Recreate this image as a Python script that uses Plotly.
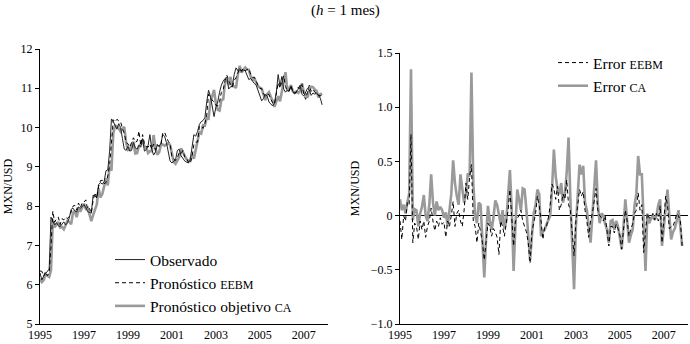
import plotly.graph_objects as go

# Monthly observations (index 0 = first month plotted at the "1995" tick)
observado = [
    6.30, 6.12, 6.22, 6.28, 6.35, 6.40, 7.72, 7.62, 7.52, 7.58,
    7.50, 7.48, 7.55, 7.60, 7.52, 7.58, 7.70, 7.92, 7.95, 7.88,
    7.85, 7.98, 7.94, 8.00, 8.04, 7.96, 7.86, 7.84, 7.82, 8.28,
    8.24, 8.22, 8.55, 8.60, 8.56, 8.62, 8.90, 8.92, 9.40, 10.22,
    10.15, 10.05, 9.96, 10.10, 10.00, 9.72, 9.45, 9.42, 9.52, 9.40,
    9.42, 9.62, 9.48, 9.45, 9.55, 9.50, 9.72, 9.40, 9.44, 9.55,
    9.82, 9.45, 9.30, 9.38, 9.55, 9.52, 9.60, 9.82, 9.78, 9.62,
    9.40, 9.15, 9.10, 9.15, 9.18, 9.42, 9.45, 9.28, 9.20, 9.15,
    9.12, 9.10, 9.18, 9.55, 9.82, 9.78, 9.90, 10.08, 10.15, 10.18,
    10.25, 10.65, 10.95, 10.80, 10.50, 10.28, 10.52, 10.65, 10.90, 11.08,
    11.18, 11.25, 11.28, 10.98, 11.04, 11.05, 11.35, 11.52, 11.45, 11.50,
    11.42, 11.46, 11.45, 11.35, 11.22, 11.25, 11.18, 11.12, 11.08, 10.95,
    10.82, 10.68, 10.74, 10.85, 10.80, 10.65, 10.60, 10.55, 10.62, 10.90,
    11.35, 11.05, 11.30, 10.98, 10.90, 10.95, 10.92, 11.05, 10.92, 10.85,
    10.92, 10.98, 11.08, 10.85, 10.80, 10.90, 11.00, 10.96, 10.82, 10.88,
    10.85, 10.88, 10.82, 10.75, 10.58,
]

error_eebm = [
    -0.05, -0.22, 0.00, -0.05, 0.12, 0.10, 0.75, -0.25, -0.07, -0.10,
    -0.22, -0.05, -0.13, -0.05, -0.20, -0.10, -0.05, 0.07, -0.05, -0.14,
    -0.05, -0.10, -0.02, -0.08, -0.06, -0.20, -0.05, -0.10, 0.00, 0.13,
    -0.10, 0.02, 0.05, -0.05, -0.10, 0.05, 0.30, 0.15, 0.36, 0.47,
    -0.05, -0.10, -0.25, -0.07, -0.15, -0.25, -0.41, -0.20, -0.07, -0.10,
    -0.19, -0.12, -0.15, -0.20, -0.36, -0.05, -0.10, -0.19, -0.08, 0.05,
    0.24, 0.00, -0.28, -0.05, -0.02, 0.00, 0.05, -0.05, -0.10, -0.15,
    -0.25, -0.44, -0.15, -0.05, 0.02, 0.18, 0.09, -0.05, -0.22, -0.10,
    -0.10, -0.02, 0.10, 0.29, 0.25, 0.15, 0.27, 0.05, 0.10, 0.20,
    0.15, 0.33, 0.10, 0.05, -0.20, -0.37, -0.05, 0.10, 0.24, 0.18,
    0.22, 0.05, -0.05, -0.20, -0.05, 0.02, 0.15, 0.25, 0.05, 0.00,
    -0.02, -0.05, 0.00, -0.12, -0.28, -0.10, -0.10, -0.16, -0.08, -0.12,
    -0.18, -0.31, -0.12, 0.05, -0.05, -0.19, -0.12, -0.08, 0.02, 0.05,
    0.21, 0.05, 0.10, -0.34, -0.15, 0.02, -0.02, -0.02, 0.02, -0.04,
    0.02, -0.05, 0.09, -0.25, -0.05, 0.18, 0.10, -0.12, -0.10, -0.10,
    -0.05, 0.02, 0.00, -0.05, -0.28,
]

error_ca = [
    0.15, 0.05, 0.10, 0.02, 0.12, 0.20, 1.35, -0.04, 0.06, 0.05,
    -0.10, 0.02, 0.08, 0.19, 0.00, -0.05, 0.10, 0.38, 0.12, 0.00,
    0.13, 0.05, 0.08, 0.05, -0.02, 0.03, -0.10, 0.05, 0.20, 0.51,
    0.30, 0.18, 0.10, 0.38, 0.25, 0.12, 0.20, 0.39, 0.36, 1.32,
    0.30, 0.00, -0.07, 0.12, 0.10, -0.25, -0.57, -0.20, 0.09, -0.05,
    -0.13, -0.02, 0.14, 0.10, 0.02, -0.08, 0.05, -0.12, -0.05, 0.20,
    0.42, 0.05, -0.51, -0.10, 0.24, 0.15, 0.05, 0.25, 0.24, 0.05,
    -0.20, -0.41, -0.19, 0.02, 0.10, 0.24, 0.20, -0.19, -0.15, -0.13,
    -0.08, -0.04, 0.00, 0.25, 0.61, 0.36, 0.24, 0.20, 0.30, 0.12,
    0.20, 0.40, 0.72, 0.15, -0.30, -0.68, -0.10, 0.20, 0.47, 0.38,
    0.46, 0.12, 0.05, -0.10, -0.25, 0.00, 0.30, 0.51, 0.10, -0.07,
    0.02, 0.00, -0.08, -0.13, -0.25, -0.05, -0.04, -0.13, -0.05, -0.10,
    -0.20, -0.31, -0.10, 0.15, -0.05, -0.25, -0.18, -0.13, 0.09, 0.20,
    0.55, 0.38, 0.38, -0.10, -0.51, 0.02, -0.07, -0.03, 0.00, -0.04,
    0.00, 0.10, 0.15, -0.28, -0.10, 0.05, 0.24, 0.00, -0.22, -0.15,
    -0.12, -0.05, 0.05, -0.10, -0.28,
]

year_ticks = [1995, 1997, 1999, 2001, 2003, 2005, 2007]
year_labels = ["1995", "1997", "1999", "2001", "2003", "2005", "2007"]
left_ticks = [5, 6, 7, 8, 9, 10, 11, 12]
left_labels = ["5", "6", "7", "8", "9", "10", "11", "12"]
right_ticks = [-1.0, -0.5, 0, 0.5, 1.0, 1.5]
right_labels = ["\u22121.0", "\u22120.5", "0", "0.5", "1.0", "1.5"]

n = len(observado)
fecha = [1995 + i / 12 for i in range(n)]
pron_eebm = [o - e for o, e in zip(observado, error_eebm)]
pron_ca = [o - e for o, e in zip(observado, error_ca)]

FONT = "Liberation Serif, Times New Roman, serif"
SC = '<span style="font-size:12px">{}</span>'
GRAY = "#9a9a9a"

fig = go.Figure()

# Left panel
fig.add_trace(go.Scatter(x=fecha, y=pron_ca, mode="lines", name="Pronóstico objetivo " + SC.format("CA"),
                         line=dict(color=GRAY, width=2.6), xaxis="x", yaxis="y",
                         legend="legend", legendrank=3))
fig.add_trace(go.Scatter(x=fecha, y=observado, mode="lines", name="Observado",
                         line=dict(color="#222222", width=1), xaxis="x", yaxis="y",
                         legend="legend", legendrank=1))
fig.add_trace(go.Scatter(x=fecha, y=pron_eebm, mode="lines", name="Pronóstico " + SC.format("EEBM"),
                         line=dict(color="black", width=1, dash="4px,3px"), xaxis="x", yaxis="y",
                         legend="legend", legendrank=2))

# Right panel
fig.add_trace(go.Scatter(x=fecha, y=error_ca, mode="lines", name="Error " + SC.format("CA"),
                         line=dict(color=GRAY, width=2.6), xaxis="x2", yaxis="y2",
                         legend="legend2", legendrank=2))
fig.add_trace(go.Scatter(x=fecha, y=error_eebm, mode="lines", name="Error " + SC.format("EEBM"),
                         line=dict(color="black", width=1, dash="4px,3px"), xaxis="x2", yaxis="y2",
                         legend="legend2", legendrank=1))

W, H = 690, 344


def px_x(sx):
    return sx / W


def px_y(sy):
    return (H - sy) / H


axis_common = dict(showgrid=False, showline=True, linecolor="black", linewidth=1, automargin=False,
                   tickfont=dict(size=12, color="black", family=FONT))

fig.update_layout(
    width=W, height=H,
    margin=dict(l=0, r=0, t=0, b=0, autoexpand=False),
    paper_bgcolor="white", plot_bgcolor="white",
    font=dict(family=FONT, color="black", size=12),
    xaxis=dict(domain=[px_x(40), px_x(328)], range=[1995, 2008.1], tickvals=year_ticks,
               ticktext=year_labels, ticks="", anchor="y", zeroline=False, **axis_common),
    yaxis=dict(domain=[px_y(324), px_y(49)], range=[5, 12], tickvals=left_ticks, ticktext=left_labels,
               ticks="outside", ticklen=4, tickcolor="black", anchor="x", zeroline=False,
               title=dict(text="MXN/USD", font=dict(size=12, family=FONT), standoff=5),
               **axis_common),
    xaxis2=dict(domain=[px_x(400), px_x(688)], range=[1995, 2008.1], tickvals=year_ticks,
                ticktext=year_labels, ticks="", anchor="y2", zeroline=False, **axis_common),
    yaxis2=dict(domain=[px_y(324), px_y(53)], range=[-1.0, 1.5], tickvals=right_ticks,
                ticktext=right_labels, ticks="outside", ticklen=4, tickcolor="black",
                anchor="x2", zeroline=True, zerolinecolor="black", zerolinewidth=1,
                title=dict(text="MXN/USD", font=dict(size=12, family=FONT), standoff=8),
                **axis_common),
    legend=dict(x=px_x(110), y=px_y(243), xanchor="left", yanchor="top",
                bgcolor="rgba(0,0,0,0)", font=dict(size=15.5, family=FONT), itemwidth=30,
                tracegroupgap=0),
    legend2=dict(x=px_x(553), y=px_y(46), xanchor="left", yanchor="top",
                 bgcolor="rgba(0,0,0,0)", font=dict(size=15.5, family=FONT), itemwidth=30,
                 tracegroupgap=0),
    annotations=[dict(text="(<i>h</i> = 1 mes)", x=px_x(345), y=px_y(11), xref="paper", yref="paper",
                      xanchor="center", yanchor="middle", showarrow=False,
                      font=dict(size=15, family=FONT))],
)

# Remove the default page margin so the figure sits at the window's top-left corner.
fig.write_html("out.html", config={"displayModeBar": False},
               post_script="document.body.style.margin='0';")
